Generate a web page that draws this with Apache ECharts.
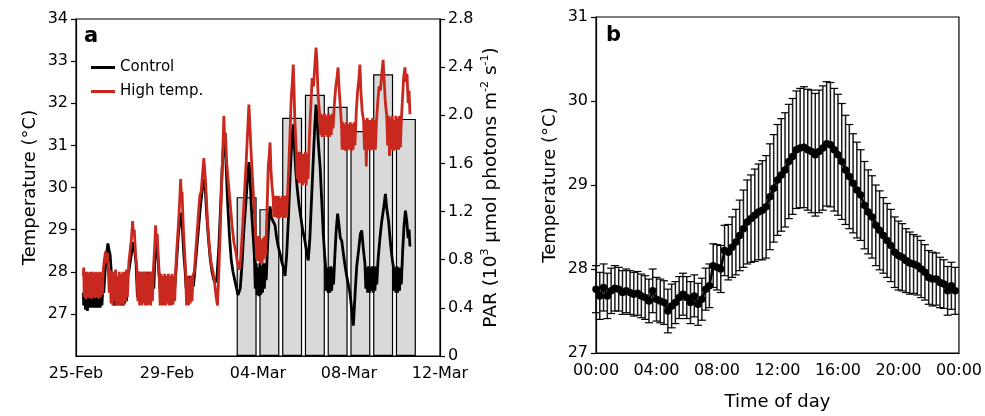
<!DOCTYPE html>
<html>
<head>
<meta charset="utf-8">
<script src="https://cdn.jsdelivr.net/npm/echarts@6/dist/echarts.min.js"></script>
<style>
    html, body { margin: 0; padding: 0; background: #fff; }
    #main { width: 985px; height: 416px; }
</style>
</head>
<body>
<div id="main"></div>
<script>
// ---- panel a : x = days since 25-Feb 00:00 ----
var dayTickLabels = ['25-Feb', '29-Feb', '04-Mar', '08-Mar', '12-Mar'];
var parDays = [7.5, 8.5, 9.5, 10.5, 11.5, 12.5, 13.5, 14.5];
var parValues = [1.32, 1.22, 1.98, 2.17, 2.07, 1.87, 2.34, 1.97];

var ctrlTemp = [
    [0.32, 27.5], [0.34, 27.2], [0.38, 27.45], [0.42, 27.1], [0.46, 27.45], [0.50, 27.07], [0.54, 27.45],
    [0.58, 27.15], [0.62, 27.45], [0.66, 27.15], [0.70, 27.45], [0.74, 27.15], [0.78, 27.45], [0.82, 27.15],
    [0.86, 27.45], [0.90, 27.15], [0.94, 27.45], [0.98, 27.15], [1.02, 27.45], [1.06, 27.15], [1.10, 27.5],
    [1.14, 27.2], [1.18, 27.6], [1.22, 27.5],
    [1.28, 28.0], [1.34, 28.4], [1.40, 28.67], [1.46, 28.5], [1.50, 28.4], [1.55, 28.0],
    [1.58, 27.3], [1.62, 27.85], [1.66, 27.2], [1.70, 27.9], [1.74, 27.2], [1.78, 27.85], [1.82, 27.2],
    [1.86, 27.8], [1.90, 27.25], [1.94, 27.85], [1.98, 27.2], [2.02, 27.9], [2.06, 27.2], [2.10, 27.85],
    [2.14, 27.25], [2.18, 27.9], [2.22, 27.3], [2.26, 27.9],
    [2.32, 28.0], [2.40, 28.3], [2.46, 28.5], [2.52, 28.7], [2.58, 28.5], [2.64, 28.2],
    [2.70, 27.4], [2.74, 28.0], [2.78, 27.35], [2.82, 28.0], [2.86, 27.4], [2.90, 27.95], [2.94, 27.35],
    [2.98, 28.0], [3.02, 27.4], [3.06, 27.95], [3.10, 27.35], [3.14, 28.0], [3.18, 27.4], [3.22, 27.95],
    [3.26, 27.4], [3.30, 28.0], [3.34, 27.45], [3.38, 28.0], [3.42, 27.6],
    [3.46, 28.2], [3.52, 28.8], [3.58, 28.5], [3.64, 28.0],
    [3.70, 27.6], [3.74, 27.85], [3.78, 27.6], [3.82, 27.84], [3.86, 27.6], [3.90, 27.85], [3.94, 27.6],
    [3.98, 27.84], [4.02, 27.6], [4.06, 27.85], [4.10, 27.6], [4.14, 27.84], [4.18, 27.6], [4.22, 27.85],
    [4.26, 27.6], [4.30, 27.84], [4.34, 27.62], [4.38, 27.9],
    [4.44, 28.4], [4.50, 28.9], [4.56, 29.2], [4.62, 29.4], [4.68, 29.0], [4.74, 28.4], [4.80, 28.0],
    [4.84, 27.6], [4.88, 27.9], [4.92, 27.6], [4.96, 27.9], [5.00, 27.6], [5.04, 27.9], [5.08, 27.62],
    [5.12, 27.9], [5.16, 27.65],
    [5.22, 28.0], [5.30, 28.5], [5.38, 29.0], [5.46, 29.5], [5.54, 29.9], [5.62, 30.2], [5.68, 30.0],
    [5.74, 29.4], [5.82, 28.8], [5.90, 28.3], [5.98, 28.0], [6.06, 27.8], [6.14, 27.75], [6.20, 27.9],
    [6.28, 28.6], [6.36, 29.6], [6.42, 30.4], [6.48, 31.0], [6.52, 31.2], [6.56, 31.1], [6.60, 30.5],
    [6.66, 29.7], [6.74, 28.9], [6.82, 28.3], [6.90, 28.0], [6.98, 27.8], [7.06, 27.6], [7.12, 27.45],
    [7.18, 27.42], [7.22, 27.6], [7.30, 28.2], [7.38, 29.0], [7.46, 29.6], [7.54, 30.2], [7.60, 30.6],
    [7.64, 30.4], [7.70, 29.6], [7.78, 28.9], [7.84, 28.4],
    [7.88, 27.6], [7.92, 28.2], [7.96, 27.45], [8.00, 28.1], [8.04, 27.42], [8.08, 28.2], [8.12, 27.45],
    [8.16, 28.15], [8.20, 27.5], [8.24, 28.2], [8.28, 27.6], [8.32, 28.2], [8.36, 27.8],
    [8.42, 28.6], [8.48, 29.2], [8.53, 29.55], [8.58, 29.3], [8.66, 29.2], [8.75, 29.1], [8.82, 28.8],
    [8.89, 28.6], [8.98, 28.4], [9.06, 28.2], [9.12, 28.1], [9.19, 27.9], [9.26, 28.4], [9.34, 29.3],
    [9.42, 30.4], [9.50, 31.2], [9.55, 31.5], [9.60, 31.0], [9.66, 30.4], [9.72, 30.0], [9.80, 29.6],
    [9.88, 29.3], [9.96, 29.0], [10.04, 28.8], [10.10, 28.6], [10.16, 28.4], [10.21, 28.27], [10.28, 28.8],
    [10.36, 29.8], [10.44, 30.8], [10.50, 31.5], [10.55, 31.97], [10.60, 31.6], [10.66, 31.0], [10.73, 30.49],
    [10.80, 29.7], [10.87, 28.9], [10.93, 28.4], [10.97, 28.13],
    [11.00, 27.55], [11.04, 28.1], [11.08, 27.5], [11.12, 28.1], [11.16, 27.5], [11.20, 28.13], [11.24, 27.55],
    [11.28, 28.1], [11.32, 27.7],
    [11.38, 28.4], [11.44, 29.0], [11.50, 29.38], [11.56, 29.1], [11.62, 28.8], [11.68, 28.74], [11.76, 28.4],
    [11.83, 28.13], [11.90, 27.9], [11.97, 27.7], [12.04, 27.5], [12.10, 27.2], [12.15, 26.9], [12.19, 26.72],
    [12.22, 27.0], [12.28, 27.6], [12.34, 28.13], [12.42, 28.5], [12.50, 28.9], [12.56, 28.98], [12.62, 28.6],
    [12.70, 28.2],
    [12.74, 27.6], [12.78, 28.1], [12.82, 27.5], [12.86, 28.13], [12.90, 27.5], [12.94, 28.1], [12.98, 27.55],
    [13.02, 28.13], [13.06, 27.5], [13.10, 28.1], [13.14, 27.55], [13.18, 28.13], [13.22, 27.7],
    [13.28, 28.3], [13.36, 28.8], [13.44, 29.2], [13.52, 29.5], [13.60, 29.85], [13.66, 29.5], [13.74, 29.2],
    [13.82, 28.7], [13.90, 28.3], [13.95, 28.13],
    [13.98, 27.55], [14.02, 28.1], [14.06, 27.5], [14.10, 28.13], [14.14, 27.5], [14.18, 28.1], [14.22, 27.55],
    [14.26, 28.1], [14.30, 27.7],
    [14.36, 28.5], [14.42, 29.1], [14.48, 29.45], [14.54, 29.2], [14.60, 28.8], [14.64, 29.0], [14.68, 28.6]
];

var highTemp = [
    [0.32, 27.9], [0.34, 28.1], [0.36, 27.4], [0.40, 28.0], [0.44, 27.35], [0.48, 28.0], [0.52, 27.4],
    [0.56, 27.98], [0.60, 27.38], [0.64, 28.0], [0.68, 27.36], [0.72, 28.0], [0.76, 27.4], [0.80, 27.98],
    [0.84, 27.38], [0.88, 28.0], [0.92, 27.4], [0.96, 27.98], [1.00, 27.36], [1.04, 28.0], [1.08, 27.4],
    [1.12, 27.98], [1.16, 27.45], [1.20, 28.05],
    [1.25, 28.3], [1.30, 28.48], [1.34, 28.2], [1.38, 28.45], [1.42, 28.1],
    [1.46, 27.5], [1.50, 28.05], [1.54, 27.25], [1.58, 28.0], [1.62, 27.2], [1.66, 28.0], [1.70, 27.3],
    [1.74, 28.05], [1.78, 27.2], [1.82, 27.9], [1.86, 27.22], [1.90, 28.0], [1.94, 27.2], [1.98, 27.95],
    [2.02, 27.25], [2.06, 28.0], [2.10, 27.2], [2.14, 28.0], [2.18, 27.3], [2.22, 28.05], [2.26, 27.4],
    [2.32, 28.2], [2.38, 28.5], [2.44, 28.8], [2.49, 29.2], [2.52, 28.9], [2.56, 29.0], [2.62, 28.4],
    [2.68, 28.05],
    [2.72, 27.3], [2.76, 28.0], [2.80, 27.2], [2.84, 28.0], [2.88, 27.2], [2.92, 27.95], [2.96, 27.25],
    [3.00, 28.0], [3.04, 27.2], [3.08, 28.0], [3.12, 27.2], [3.16, 27.95], [3.20, 27.22], [3.24, 28.0],
    [3.28, 27.2], [3.32, 28.0], [3.36, 27.3], [3.40, 28.05],
    [3.45, 28.5], [3.50, 29.1], [3.53, 28.8], [3.57, 28.9], [3.62, 28.3], [3.66, 27.9],
    [3.70, 27.2], [3.74, 27.95], [3.78, 27.2], [3.82, 27.9], [3.86, 27.2], [3.90, 27.95], [3.94, 27.2],
    [3.98, 27.9], [4.02, 27.25], [4.06, 27.95], [4.10, 27.2], [4.14, 27.9], [4.18, 27.2], [4.22, 27.95],
    [4.26, 27.22], [4.30, 27.9], [4.34, 27.3], [4.38, 28.0],
    [4.44, 28.6], [4.50, 29.1], [4.55, 29.6], [4.60, 30.2], [4.63, 29.8], [4.66, 29.9], [4.72, 29.0],
    [4.78, 28.4], [4.82, 28.0],
    [4.86, 27.2], [4.90, 27.9], [4.94, 27.2], [4.98, 27.85], [5.02, 27.25], [5.06, 27.9], [5.10, 27.3],
    [5.14, 27.9],
    [5.20, 28.0], [5.28, 28.6], [5.36, 29.2], [5.44, 29.8], [5.50, 29.9], [5.56, 30.3], [5.62, 30.7],
    [5.66, 30.4], [5.70, 30.1], [5.78, 29.2], [5.86, 28.6], [5.94, 28.2], [6.02, 28.0], [6.08, 27.8],
    [6.16, 27.4], [6.22, 27.2], [6.28, 28.0], [6.34, 29.0], [6.40, 30.0], [6.46, 31.0], [6.50, 31.7],
    [6.53, 31.2], [6.57, 31.3], [6.62, 30.6], [6.70, 30.1], [6.78, 29.6], [6.86, 29.1], [6.94, 28.7],
    [7.02, 28.5], [7.10, 28.2], [7.18, 28.05], [7.24, 28.3], [7.32, 29.0], [7.40, 29.8], [7.48, 30.6],
    [7.55, 31.4], [7.60, 31.97], [7.64, 31.5], [7.70, 30.8], [7.78, 30.0], [7.86, 29.2],
    [7.90, 28.8], [7.94, 28.3], [7.98, 28.85], [8.02, 28.25], [8.06, 28.8], [8.10, 28.2], [8.14, 28.75],
    [8.18, 28.2], [8.22, 28.8], [8.26, 28.3], [8.30, 28.85], [8.34, 28.4],
    [8.40, 29.5], [8.45, 30.5], [8.50, 30.8], [8.53, 31.07], [8.57, 30.4], [8.62, 30.0], [8.66, 29.8],
    [8.70, 29.3], [8.74, 29.8], [8.78, 29.3], [8.82, 29.8], [8.86, 29.28], [8.90, 29.8], [8.94, 29.26],
    [8.98, 29.75], [9.02, 29.3], [9.06, 29.8], [9.10, 29.3], [9.14, 29.8], [9.18, 29.28], [9.22, 29.8],
    [9.26, 29.3], [9.30, 29.85],
    [9.36, 30.6], [9.42, 31.5], [9.46, 32.1], [9.52, 32.6], [9.55, 32.92], [9.58, 32.4], [9.62, 31.6],
    [9.68, 30.9],
    [9.72, 30.2], [9.76, 30.85], [9.80, 30.1], [9.84, 30.85], [9.88, 30.1], [9.92, 30.8], [9.96, 30.05],
    [10.00, 30.8], [10.04, 30.1], [10.08, 30.85], [10.12, 30.05], [10.16, 30.8], [10.20, 30.2],
    [10.26, 31.2], [10.32, 31.9], [10.38, 32.6], [10.44, 32.4], [10.50, 32.9], [10.55, 33.32], [10.59, 33.0],
    [10.64, 32.2], [10.70, 31.8],
    [10.74, 31.25], [10.78, 31.75], [10.82, 31.2], [10.86, 31.7], [10.90, 31.2], [10.94, 31.75], [10.98, 31.25],
    [11.02, 31.7], [11.06, 31.2], [11.10, 31.75], [11.14, 31.2], [11.18, 31.7], [11.22, 31.25], [11.26, 31.75],
    [11.30, 31.4],
    [11.36, 32.0], [11.42, 32.4], [11.47, 32.6], [11.52, 32.85], [11.56, 32.4], [11.62, 31.9], [11.67, 31.5],
    [11.70, 30.9], [11.74, 31.55], [11.78, 30.9], [11.82, 31.5], [11.86, 30.87], [11.90, 31.55], [11.94, 30.9],
    [11.98, 31.5], [12.02, 30.9], [12.06, 31.55], [12.10, 30.87], [12.14, 31.5], [12.18, 30.9], [12.22, 31.55],
    [12.26, 31.0],
    [12.32, 31.8], [12.38, 32.3], [12.44, 32.6], [12.48, 32.92], [12.52, 32.3], [12.58, 31.8], [12.64, 31.6],
    [12.68, 30.9], [12.72, 31.6], [12.76, 30.5], [12.80, 31.65], [12.84, 30.9], [12.88, 31.6], [12.92, 30.87],
    [12.96, 31.6], [13.00, 30.9], [13.04, 31.65], [13.08, 30.9], [13.12, 31.6], [13.16, 30.9], [13.20, 31.5],
    [13.26, 32.0], [13.32, 32.4], [13.38, 32.3], [13.44, 32.7], [13.50, 33.03], [13.54, 32.6], [13.60, 32.0],
    [13.66, 31.7],
    [13.70, 31.0], [13.74, 31.7], [13.78, 30.75], [13.82, 31.65], [13.86, 30.9], [13.90, 31.7], [13.94, 30.87],
    [13.98, 31.6], [14.02, 30.9], [14.06, 31.7], [14.10, 30.9], [14.14, 31.65], [14.18, 30.9], [14.22, 31.7],
    [14.26, 30.95], [14.30, 31.6],
    [14.34, 32.0], [14.40, 32.6], [14.46, 32.85], [14.50, 32.5], [14.55, 32.7], [14.60, 32.0], [14.64, 32.3],
    [14.68, 31.74]
];

// ---- panel b : 15-min means and SD over the day ----
var hourTickLabels = ['00:00', '04:00', '08:00', '12:00', '16:00', '20:00', '00:00'];
var dayMean = [
    27.76, 27.68, 27.78, 27.68, 27.74, 27.77, 27.76, 27.72, 27.74, 27.72, 27.70, 27.71,
    27.68, 27.66, 27.62, 27.74, 27.64, 27.62, 27.60, 27.50, 27.56, 27.60, 27.66, 27.70,
    27.66, 27.60, 27.68, 27.58, 27.64, 27.76, 27.80, 28.04, 28.02, 28.00, 28.22, 28.20,
    28.26, 28.32, 28.40, 28.48, 28.56, 28.60, 28.64, 28.68, 28.70, 28.74, 28.86, 28.96,
    29.06, 29.12, 29.18, 29.28, 29.34, 29.42, 29.44, 29.45, 29.42, 29.40, 29.36, 29.40,
    29.44, 29.49, 29.48, 29.42, 29.36, 29.28, 29.18, 29.10, 29.02, 28.94, 28.88, 28.76,
    28.68, 28.62, 28.52, 28.46, 28.40, 28.34, 28.28, 28.20, 28.16, 28.14, 28.10, 28.07,
    28.06, 28.04, 28.00, 27.96, 27.90, 27.88, 27.88, 27.84, 27.82, 27.74, 27.80, 27.74
];
var daySd = [
    0.28, 0.28, 0.28, 0.27, 0.27, 0.27, 0.26, 0.26, 0.26, 0.26, 0.26, 0.26,
    0.26, 0.26, 0.26, 0.26, 0.26, 0.26, 0.26, 0.26, 0.26, 0.25, 0.25, 0.25,
    0.25, 0.25, 0.25, 0.25, 0.25, 0.25, 0.26, 0.26, 0.27, 0.28, 0.30, 0.33,
    0.36, 0.39, 0.42, 0.46, 0.50, 0.52, 0.55, 0.57, 0.59, 0.61, 0.63, 0.64,
    0.66, 0.67, 0.68, 0.68, 0.69, 0.70, 0.71, 0.72, 0.72, 0.73, 0.73, 0.73,
    0.74, 0.74, 0.74, 0.73, 0.72, 0.69, 0.65, 0.62, 0.59, 0.57, 0.54, 0.52,
    0.50, 0.49, 0.48, 0.47, 0.45, 0.44, 0.43, 0.42, 0.41, 0.40, 0.38, 0.37,
    0.35, 0.35, 0.34, 0.33, 0.32, 0.32, 0.31, 0.30, 0.29, 0.29, 0.28, 0.28
];

var FONT = 'DejaVu Sans';
var RED = '#c9281f';

function DrawFigure() {
    var chart = echarts.init(document.getElementById('main'), null, { renderer: 'canvas' });

    var parData = parDays.map(function (d, i) { return [d, parValues[i]]; });
    var meanData = dayMean.map(function (m, i) { return [i * 0.25, m]; });
    var errData = dayMean.map(function (m, i) {
        return [i * 0.25, m - daySd[i], m + daySd[i]];
    });

    var axisLine = { show: true, lineStyle: { color: '#000', width: 1.2 } };
    var tickOut = { show: true, inside: false, length: 5, lineStyle: { color: '#000', width: 1.2 } };
    var labelStyle = { color: '#000', fontSize: 16, fontFamily: FONT };
    var nameStyle = { color: '#000', fontSize: 18, fontFamily: FONT };

    var option = {
        animation: false,
        textStyle: { fontFamily: FONT },
        graphic: [
            { type: 'text', left: 84, top: 26, style: { text: 'a', font: 'bold 21px ' + FONT, fill: '#000' } },
            { type: 'text', left: 606, top: 25, style: { text: 'b', font: 'bold 21px ' + FONT, fill: '#000' } }
        ],
        legend: {
            data: ['Control', 'High temp.'],
            orient: 'vertical',
            left: 86,
            top: 55,
            itemWidth: 24,
            itemHeight: 3,
            itemGap: 9,
            icon: 'rect',
            textStyle: { color: '#000', fontSize: 15, fontFamily: FONT }
        },
        grid: [
            { left: 76, top: 19, width: 364, height: 337, show: true, borderColor: '#000', borderWidth: 1.2 },
            { left: 596, top: 17, width: 366, height: 339, show: true, borderColor: '#000', borderWidth: 1.2 }
        ],
        xAxis: [
            {
                type: 'value', gridIndex: 0, min: 0, max: 16, interval: 4,
                axisLine: axisLine, axisTick: { show: false }, splitLine: { show: false },
                axisLabel: Object.assign({ margin: 10, formatter: function (v) { return dayTickLabels[v / 4]; } }, labelStyle)
            },
            {
                type: 'value', gridIndex: 1, min: 0, max: 24, interval: 4,
                name: 'Time of day', nameLocation: 'middle', nameGap: 40, nameTextStyle: nameStyle,
                axisLine: axisLine, axisTick: { show: false }, splitLine: { show: false },
                axisLabel: Object.assign({ margin: 10, formatter: function (v) { return hourTickLabels[v / 4]; } }, labelStyle)
            }
        ],
        yAxis: [
            {
                type: 'value', gridIndex: 0, min: 26, max: 34, interval: 1,
                name: 'Temperature (\u00B0C)', nameLocation: 'middle', nameGap: 37, nameTextStyle: nameStyle,
                axisLine: axisLine, splitLine: { show: false },
                axisTick: Object.assign({ customValues: [27, 28, 29, 30, 31, 32, 33, 34] }, tickOut),
                axisLabel: Object.assign({
                    margin: 8,
                    customValues: [27, 28, 29, 30, 31, 32, 33, 34],
                    formatter: function (v) { return v === 26 ? '' : v; }
                }, labelStyle)
            },
            {
                type: 'value', gridIndex: 0, position: 'right', min: 0, max: 2.8, interval: 0.4,
                name: '{n|PAR (10}{s|3}{n| \u00B5mol photons m}{s|-2}{n| s}{s|-1}{n|)}',
                nameLocation: 'middle', nameGap: 40,
                nameTextStyle: {
                    color: '#000',
                    rich: {
                        n: { fontSize: 18.5, lineHeight: 22, fontFamily: FONT, color: '#000' },
                        s: { fontSize: 11, lineHeight: 12, fontFamily: FONT, color: '#000', verticalAlign: 'top' }
                    }
                },
                axisLine: axisLine, axisTick: tickOut, splitLine: { show: false },
                axisLabel: Object.assign({
                    margin: 8,
                    formatter: function (v) { return v === 0 ? '0' : v.toFixed(1); }
                }, labelStyle)
            },
            {
                type: 'value', gridIndex: 1, min: 27, max: 31, interval: 1,
                name: 'Temperature (\u00B0C)', nameLocation: 'middle', nameGap: 37, nameTextStyle: nameStyle,
                axisLine: axisLine, axisTick: tickOut, splitLine: { show: false },
                axisLabel: Object.assign({ margin: 8 }, labelStyle)
            }
        ],
        series: [
            {
                name: 'PAR',
                type: 'bar',
                xAxisIndex: 0,
                yAxisIndex: 1,
                barWidth: 20,
                itemStyle: { color: '#d9d9d9', borderColor: '#000', borderWidth: 1.2 },
                z: 1,
                data: parData
            },
            {
                name: 'Control',
                type: 'line',
                xAxisIndex: 0,
                yAxisIndex: 0,
                symbol: 'none',
                lineStyle: { color: '#000', width: 2.8 },
                itemStyle: { color: '#000' },
                z: 2,
                data: ctrlTemp
            },
            {
                name: 'High temp.',
                type: 'line',
                xAxisIndex: 0,
                yAxisIndex: 0,
                symbol: 'none',
                lineStyle: { color: RED, width: 2.8 },
                itemStyle: { color: RED },
                z: 3,
                data: highTemp
            },
            {
                name: 'SD',
                type: 'custom',
                xAxisIndex: 1,
                yAxisIndex: 2,
                z: 2,
                renderItem: function (params, api) {
                    var x = api.value(0);
                    var lo = api.coord([x, api.value(1)]);
                    var hi = api.coord([x, api.value(2)]);
                    var w = 4;
                    var st = { stroke: '#1a1a1a', lineWidth: 1.5 };
                    var cap = { stroke: '#000', lineWidth: 1.2 };
                    return {
                        type: 'group',
                        children: [
                            { type: 'line', shape: { x1: lo[0], y1: lo[1], x2: hi[0], y2: hi[1] }, style: st },
                            { type: 'line', shape: { x1: hi[0] - w, y1: hi[1], x2: hi[0] + w, y2: hi[1] }, style: cap },
                            { type: 'line', shape: { x1: lo[0] - w, y1: lo[1], x2: lo[0] + w, y2: lo[1] }, style: cap }
                        ]
                    };
                },
                data: errData
            },
            {
                name: 'Mean',
                type: 'line',
                xAxisIndex: 1,
                yAxisIndex: 2,
                symbol: 'circle',
                symbolSize: 7.5,
                lineStyle: { color: '#000', width: 2.5 },
                itemStyle: { color: '#000' },
                z: 3,
                data: meanData
            }
        ]
    };
    chart.setOption(option);
}

DrawFigure();
</script>
</body>
</html>
